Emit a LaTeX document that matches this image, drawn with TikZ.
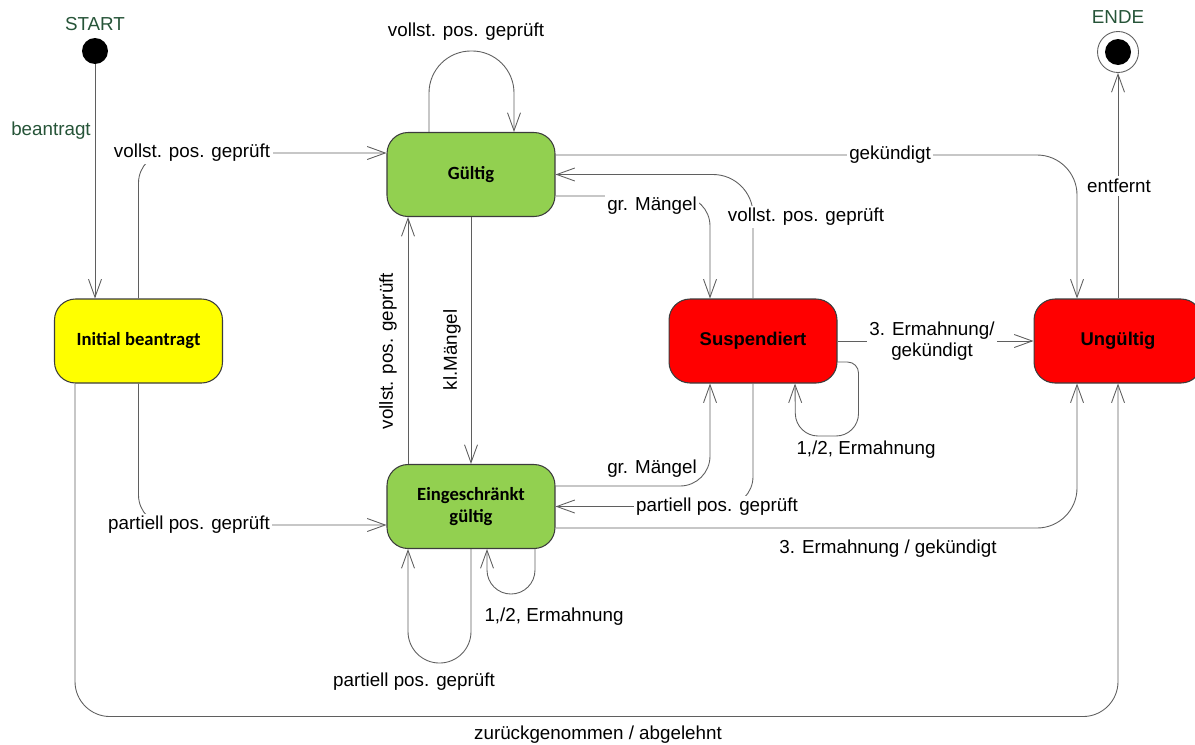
\documentclass[tikz,border=0pt]{standalone}
\usepackage{fontspec}
\setmainfont{Liberation Sans}
\newfontfamily\statefont{Carlito}
\usetikzlibrary{arrows.meta,calc}

\definecolor{okgreen}{RGB}{146,208,80}
\definecolor{newyellow}{RGB}{255,255,0}
\definecolor{badred}{RGB}{255,0,0}
\definecolor{wire}{RGB}{95,95,95}
\definecolor{frame}{RGB}{60,60,60}
\definecolor{termgreen}{RGB}{38,84,56}

\newcommand\lblsize{\fontsize{10.7}{12}\selectfont}

\begin{document}
\begin{tikzpicture}[x=0.02cm, y=-0.02cm,
  state/.style={rectangle, rounded corners=0.42cm, draw=frame, line width=0.6pt,
    minimum width=3.36cm, minimum height=1.68cm, inner sep=0pt, align=center,
    font=\statefont\bfseries\fontsize{10.6}{13}\selectfont},
  arialstate/.style={state, font=\bfseries\fontsize{10.5}{13}\selectfont},
  link/.style={draw=wire, line width=0.5pt, -{Straight Barb[length=3.6mm,width=2.6mm]}},
  lbl/.style={font=\lblsize, inner sep=1.5pt, align=center},
  cover/.style={lbl, fill=white},
  term/.style={lbl, text=termgreen},
]
\useasboundingbox (0,0) rectangle (1195,744);
\clip (0,0) rectangle (1195,744);

% states
\node[state, fill=newyellow] (init)  at (138.5,341)  {Initial beantragt};
\node[state, fill=okgreen]   (valid) at (471,174.5)  {Gültig};
\node[state, fill=okgreen]   (restr) at (471,506.5)  {Eingeschränkt\\gültig};
\node[arialstate, fill=badred] (susp)  at (753,341)  {Suspendiert};
\node[arialstate, fill=badred] (inval) at (1118,341) {Ungültig};

% start and end markers
\node[circle, fill=black, minimum size=0.52cm, inner sep=0pt] (start) at (95,51) {};
\node[term] (startlbl) at (95,24.5) {START};
\node[circle, draw=wire, line width=0.5pt, fill=white, minimum size=0.82cm, inner sep=0pt] (end) at (1118,52) {};
\node[circle, fill=black, minimum size=0.52cm, inner sep=0pt] (endcore) at (end.center) {};
\node[term] (endlbl) at (1118,17) {ENDE};

% start -> initial
\draw[link] (start.south) -- (start.south |- init.north);
\node[term] (l0) at (51,131) {beantragt};

% initial -> valid / restricted / invalid
\draw[link, rounded corners=0.6cm] (init.north) |- ($(valid.west)+(0,-21.5)$);
\draw[link, rounded corners=0.6cm] (init.south) |- ($(restr.west)+(0,18.5)$);
\draw[link, rounded corners=0.7cm] ($(init.south)+(-63.5,0)$) |- ($(inval.south)+(0,333)$) -- (inval.south);

% valid self loop
\draw[link, rounded corners=0.84cm] ($(valid.north)+(-42,0)$) -- ++(0,-81) -- ++(85,0) -- ($(valid.north)+(43,0)$);

% valid -> invalid
\draw[link, rounded corners=0.8cm] ($(valid.east)+(0,-19.5)$) -| ($(inval.north)+(-41,0)$);
% suspended -> valid
\draw[link, rounded corners=0.8cm] (susp.north) |- (valid.east);
% valid -> suspended
\draw[link, rounded corners=0.6cm] ($(valid.east)+(0,21.5)$) -| ($(susp.north)+(-43,0)$);

% valid <-> restricted
\draw[link] (valid.south) -- (restr.north);
\draw[link] ($(restr.north)+(-63,0)$) -- ($(valid.south)+(-63,0)$);

% restricted <-> suspended
\draw[link, rounded corners=0.6cm] ($(restr.east)+(0,-20.5)$) -| ($(susp.south)+(-43,0)$);
\draw[link, rounded corners=0.6cm] (susp.south) |- (restr.east);

% restricted -> invalid
\draw[link, rounded corners=0.8cm] ($(restr.east)+(0,21.5)$) -| ($(inval.south)+(-41,0)$);

% suspended -> invalid
\draw[link] (susp.east) -- (inval.west);

% suspended self loop
\draw[link] ($(susp.east)+(0,21)$) [rounded corners=0.22cm] -- ++(21,0)
  [rounded corners=0.45cm] -- ++(0,74) -- ++(-63,0) -- ($(susp.south)+(42,0)$);

% restricted self loops
\draw[link, rounded corners=0.48cm] ($(restr.south)+(64,0)$) -- ++(0,45) -- ++(-48,0) -- ($(restr.south)+(16,0)$);
\draw[link, rounded corners=0.63cm] (restr.south) -- ++(0,114) -- ++(-63,0) -- ($(restr.south)+(-63,0)$);

% invalid -> end
\draw[link] (inval.north) -- (end.south);

% transition labels
\node[cover] (l1)  at (192,153)  {vollst. pos. geprüft};
\node[cover] (l2)  at (189,525)  {partiell pos. geprüft};
\node[lbl]   (l3)  at (598,735)  {zurückgenommen / abgelehnt};
\node[lbl]   (l4)  at (466,32)   {vollst. pos. geprüft};
\node[cover] (l5)  at (890,155)  {gekündigt};
\node[cover] (l6)  at (806,217)  {vollst. pos. geprüft};
\node[cover] (l7)  at (652,206)  {gr. Mängel};
\node[lbl, rotate=90] (l8) at (452,350) {kl.Mängel};
\node[lbl, rotate=90] (l9) at (388,351) {vollst. pos. geprüft};
\node[lbl]   (l10) at (652,469)  {gr. Mängel};
\node[cover] (l11) at (717,507)  {partiell pos. geprüft};
\node[lbl]   (l12) at (888,549)  {3. Ermahnung / gekündigt};
\node[cover] (l13) at (932,341)  {3. Ermahnung/\\gekündigt};
\node[lbl]   (l14) at (866,450)  {1,/2, Ermahnung};
\node[lbl]   (l15) at (554,617)  {1,/2, Ermahnung};
\node[lbl]   (l16) at (414,682)  {partiell pos. geprüft};
\node[cover] (l17) at (1119,186) {entfernt};
\end{tikzpicture}
\end{document}
